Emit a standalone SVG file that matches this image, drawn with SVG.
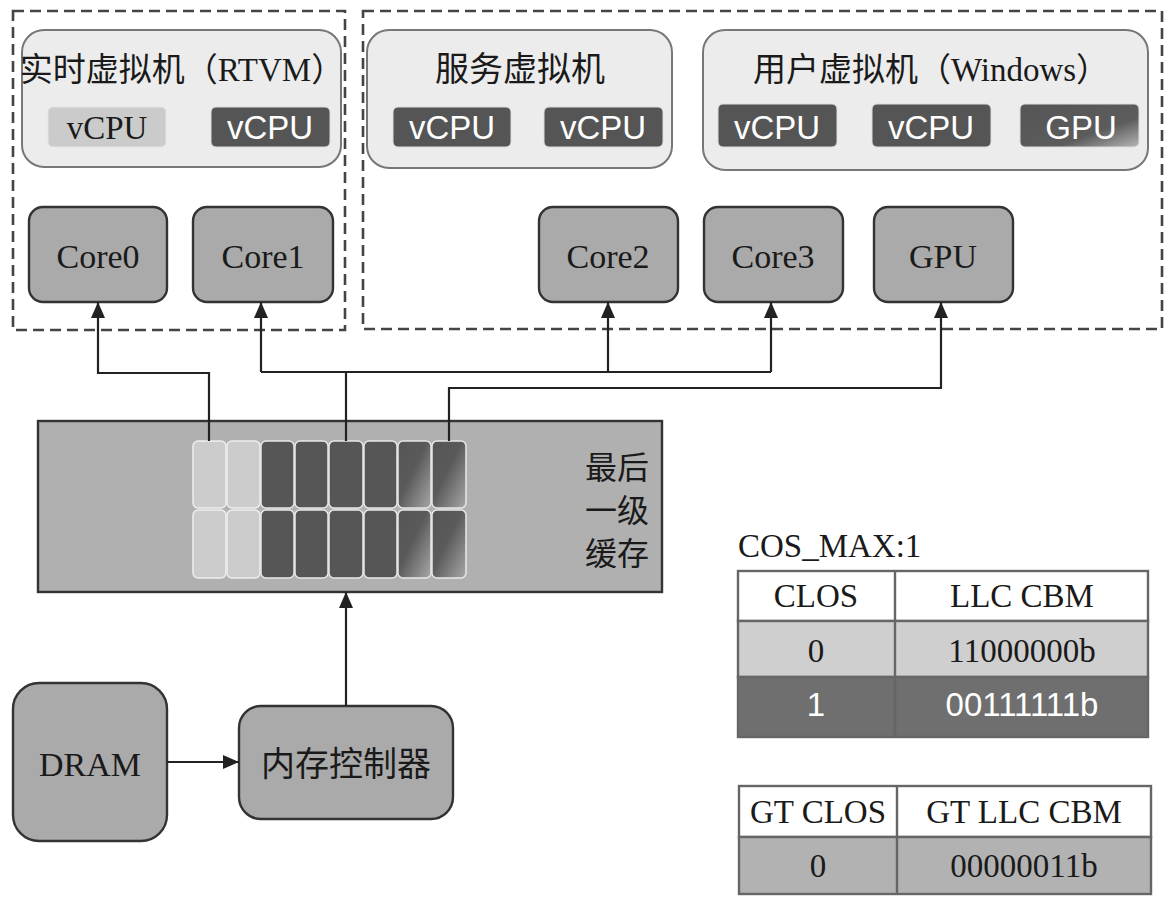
<svg xmlns="http://www.w3.org/2000/svg" width="1175" height="913" viewBox="0 0 1175 913">
<style>
.dash{fill:none;stroke:#444;stroke-width:2.6;stroke-dasharray:11 6}
.vm{fill:#ececec;stroke:#777;stroke-width:2}
.core{fill:#aaaaaa;stroke:#333;stroke-width:2.4}
.vd{fill:#555555;stroke:#ddd;stroke-width:1}
.vl{fill:#cbcbcb;stroke:#e4e4e4;stroke-width:1}
.serif{font-family:"Liberation Serif","Noto Sans CJK SC",serif;fill:#1a1a1a}
.cjk{font-family:"Noto Sans CJK SC","Liberation Serif",serif;fill:#1a1a1a}
.sans{font-family:"Liberation Sans",Arial,sans-serif;fill:#fff}
.conn{fill:none;stroke:#222;stroke-width:2.2}
.cl{fill:#cccccc;stroke:#eee;stroke-width:1.5}
.cd{fill:#565656;stroke:#e8e8e8;stroke-width:1.5}
.cg{fill:url(#grad);stroke:#e8e8e8;stroke-width:1.5}
.tb{stroke:#666;stroke-width:2.4}
</style>
<defs>
<marker id="arr" viewBox="0 0 16 14" refX="16" refY="7" markerWidth="16" markerHeight="14" markerUnits="userSpaceOnUse" orient="auto">
<path d="M0,0 L16,7 L0,14 Z" fill="#222"/>
</marker>
<linearGradient id="grad" x1="0" y1="0" x2="1" y2="1">
<stop offset="0" stop-color="#555"/>
<stop offset="0.45" stop-color="#5a5a5a"/>
<stop offset="1" stop-color="#a8a8a8"/>
</linearGradient>
<linearGradient id="gpug" x1="0" y1="0" x2="1" y2="1">
<stop offset="0" stop-color="#555"/>
<stop offset="0.65" stop-color="#5c5c5c"/>
<stop offset="1" stop-color="#b5b5b5"/>
</linearGradient>
</defs>

<rect width="1175" height="913" fill="#fff"/>

<g id="region-rt">
<rect class="dash" x="13" y="11" width="332" height="319"/>
</g>
<g id="region-other">
<rect class="dash" x="363" y="11" width="799" height="318"/>
</g>

<g id="vm-rtvm">
<rect class="vm" x="22" y="30" width="319" height="137" rx="22"/>
<text class="cjk" x="182" y="81" font-size="33" text-anchor="middle">实时虚拟机（<tspan class="serif">RTVM</tspan>）</text>
<rect class="vl" x="48" y="107" width="118" height="40" rx="5"/>
<text class="serif" x="107" y="139" font-size="33" text-anchor="middle">vCPU</text>
<rect class="vd" x="211" y="107" width="119" height="40" rx="5"/>
<text class="sans" x="270" y="139" font-size="33" text-anchor="middle">vCPU</text>
</g>

<g id="vm-service">
<rect class="vm" x="367" y="30" width="305" height="138" rx="22"/>
<text class="cjk" x="520" y="81" font-size="34" text-anchor="middle">服务虚拟机</text>
<rect class="vd" x="393" y="107" width="118" height="40" rx="5"/>
<text class="sans" x="452" y="139" font-size="33" text-anchor="middle">vCPU</text>
<rect class="vd" x="544" y="107" width="119" height="40" rx="5"/>
<text class="sans" x="603" y="139" font-size="33" text-anchor="middle">vCPU</text>
</g>

<g id="vm-user">
<rect class="vm" x="703" y="30" width="445" height="140" rx="22"/>
<text class="cjk" x="931" y="81" font-size="33" text-anchor="middle">用户虚拟机（<tspan class="serif">Windows</tspan>）</text>
<rect class="vd" x="718" y="104" width="119" height="43" rx="5"/>
<text class="sans" x="777" y="139" font-size="33" text-anchor="middle">vCPU</text>
<rect class="vd" x="872" y="104" width="119" height="43" rx="5"/>
<text class="sans" x="931" y="139" font-size="33" text-anchor="middle">vCPU</text>
<rect x="1020" y="104" width="119" height="43" rx="5" fill="url(#gpug)" stroke="#ddd" stroke-width="1"/>
<text class="sans" x="1081" y="139" font-size="33" text-anchor="middle">GPU</text>
</g>

<g id="core0">
<rect class="core" x="29" y="207" width="138" height="95" rx="14"/>
<text class="serif" x="98" y="268" font-size="34" text-anchor="middle">Core0</text>
</g>
<g id="core1">
<rect class="core" x="193" y="207" width="140" height="95" rx="14"/>
<text class="serif" x="263" y="268" font-size="34" text-anchor="middle">Core1</text>
</g>
<g id="core2">
<rect class="core" x="539" y="207" width="139" height="95" rx="14"/>
<text class="serif" x="608" y="268" font-size="34" text-anchor="middle">Core2</text>
</g>
<g id="core3">
<rect class="core" x="704" y="207" width="139" height="95" rx="14"/>
<text class="serif" x="773" y="268" font-size="34" text-anchor="middle">Core3</text>
</g>
<g id="gpu">
<rect class="core" x="874" y="207" width="139" height="95" rx="14"/>
<text class="serif" x="943" y="268" font-size="34" text-anchor="middle">GPU</text>
</g>

<g id="llc">
<rect x="38" y="421" width="624" height="171" fill="#b0b0b0" stroke="#333" stroke-width="2.4"/>
<rect class="cl" x="193" y="441" width="33" height="67" rx="5"/>
<rect class="cl" x="227" y="441" width="33" height="67" rx="5"/>
<rect class="cd" x="261" y="441" width="33" height="67" rx="5"/>
<rect class="cd" x="295" y="441" width="33" height="67" rx="5"/>
<rect class="cd" x="329" y="441" width="34" height="67" rx="5"/>
<rect class="cd" x="364" y="441" width="33" height="67" rx="5"/>
<rect class="cg" x="398" y="441" width="33" height="67" rx="5"/>
<rect class="cg" x="432" y="441" width="34" height="67" rx="5"/>
<rect class="cl" x="193" y="510" width="33" height="68" rx="5"/>
<rect class="cl" x="227" y="510" width="33" height="68" rx="5"/>
<rect class="cd" x="261" y="510" width="33" height="68" rx="5"/>
<rect class="cd" x="295" y="510" width="33" height="68" rx="5"/>
<rect class="cd" x="329" y="510" width="34" height="68" rx="5"/>
<rect class="cd" x="364" y="510" width="33" height="68" rx="5"/>
<rect class="cg" x="398" y="510" width="33" height="68" rx="5"/>
<rect class="cg" x="432" y="510" width="34" height="68" rx="5"/>
<text class="cjk" x="617" y="479" font-size="32" text-anchor="middle">最后</text>
<text class="cjk" x="617" y="522" font-size="32" text-anchor="middle">一级</text>
<text class="cjk" x="617" y="565" font-size="32" text-anchor="middle">缓存</text>
</g>

<g id="dram">
<rect class="core" x="13" y="683" width="154" height="158" rx="26"/>
<text class="serif" x="90" y="776" font-size="34" text-anchor="middle">DRAM</text>
</g>
<g id="memctrl">
<rect class="core" x="239" y="706" width="214" height="113" rx="22"/>
<text class="cjk" x="346" y="776" font-size="34" text-anchor="middle">内存控制器</text>
</g>

<g id="connectors">
<polyline class="conn" points="209,441 209,373 98,373 98,302" marker-end="url(#arr)"/>
<polyline class="conn" points="346,441 346,372"/>
<polyline class="conn" points="261,372 771,372"/>
<polyline class="conn" points="261,372 261,302" marker-end="url(#arr)"/>
<polyline class="conn" points="608,372 608,302" marker-end="url(#arr)"/>
<polyline class="conn" points="771,372 771,302" marker-end="url(#arr)"/>
<polyline class="conn" points="449,441 449,388 941,388 941,302" marker-end="url(#arr)"/>
<line class="conn" x1="346" y1="706" x2="346" y2="592" marker-end="url(#arr)"/>
<line class="conn" x1="167" y1="762" x2="239" y2="762" marker-end="url(#arr)"/>
</g>

<g id="table-clos">
<text class="serif" x="738" y="557" font-size="33">COS_MAX:1</text>
<rect class="tb" x="738" y="571" width="410" height="50" fill="#fff"/>
<rect class="tb" x="738" y="621" width="410" height="56" fill="#cfcfcf"/>
<rect class="tb" x="738" y="677" width="410" height="60" fill="#6f6f6f"/>
<line class="tb" x1="895" y1="571" x2="895" y2="737"/>
<text class="serif" x="816" y="607" font-size="33" text-anchor="middle">CLOS</text>
<text class="serif" x="1022" y="607" font-size="33" text-anchor="middle">LLC CBM</text>
<text class="serif" x="816" y="662" font-size="33" text-anchor="middle">0</text>
<text class="serif" x="1022" y="662" font-size="33" text-anchor="middle">11000000b</text>
<text class="sans" x="816" y="716" font-size="33" text-anchor="middle">1</text>
<text class="sans" x="1022" y="716" font-size="33" text-anchor="middle">00111111b</text>
</g>

<g id="table-gt">
<rect class="tb" x="739" y="786" width="412" height="51" fill="#fff"/>
<rect class="tb" x="739" y="837" width="412" height="57" fill="#b2b2b2"/>
<line class="tb" x1="897" y1="786" x2="897" y2="894"/>
<text class="serif" x="818" y="823" font-size="33" text-anchor="middle">GT CLOS</text>
<text class="serif" x="1024" y="823" font-size="33" text-anchor="middle">GT LLC CBM</text>
<text class="serif" x="818" y="877" font-size="33" text-anchor="middle">0</text>
<text class="serif" x="1024" y="877" font-size="33" text-anchor="middle">00000011b</text>
</g>
</svg>
